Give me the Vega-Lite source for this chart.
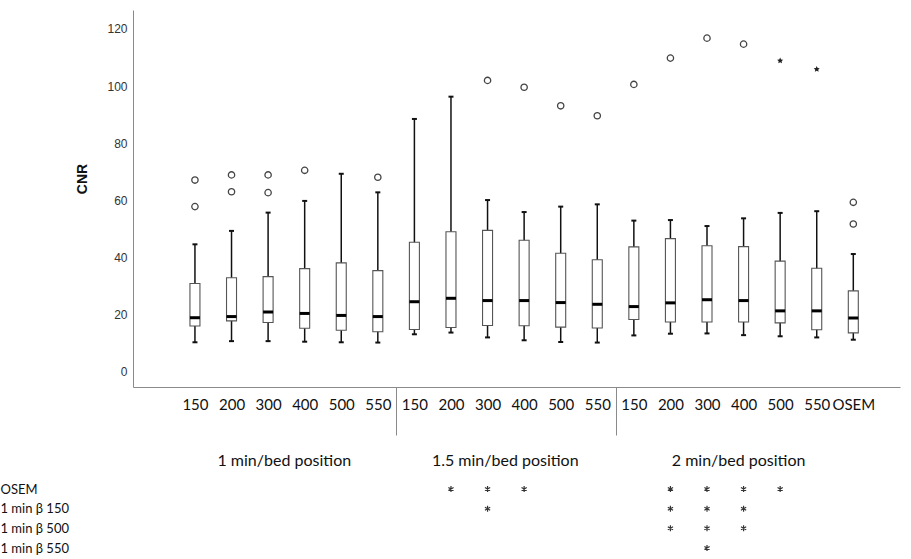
{
  "$schema": "https://vega.github.io/schema/vega-lite/v6.json",
  "width": 767,
  "height": 377,
  "autosize": {"type": "none"},
  "padding": {"left": 133, "top": 10, "right": 11, "bottom": 172},
  "background": "white",
  "config": {"view": {"stroke": null}},
  "datasets": {
    "boxes": [
      {"id": 1, "time": "1 min/bed position", "beta": "150", "lo": 10.3, "q1": 16.0, "med": 18.9, "q3": 30.9, "hi": 44.6},
      {"id": 2, "time": "1 min/bed position", "beta": "200", "lo": 10.7, "q1": 17.8, "med": 19.3, "q3": 32.9, "hi": 49.3},
      {"id": 3, "time": "1 min/bed position", "beta": "300", "lo": 10.7, "q1": 17.2, "med": 20.9, "q3": 33.3, "hi": 55.7},
      {"id": 4, "time": "1 min/bed position", "beta": "400", "lo": 10.5, "q1": 15.2, "med": 20.4, "q3": 36.1, "hi": 59.8},
      {"id": 5, "time": "1 min/bed position", "beta": "500", "lo": 10.3, "q1": 14.5, "med": 19.7, "q3": 38.1, "hi": 69.3},
      {"id": 6, "time": "1 min/bed position", "beta": "550", "lo": 10.2, "q1": 14.0, "med": 19.3, "q3": 35.4, "hi": 62.8},
      {"id": 7, "time": "1.5 min/bed position", "beta": "150", "lo": 13.1, "q1": 14.8, "med": 24.5, "q3": 45.3, "hi": 88.5},
      {"id": 8, "time": "1.5 min/bed position", "beta": "200", "lo": 13.7, "q1": 15.5, "med": 25.7, "q3": 49.0, "hi": 96.3},
      {"id": 9, "time": "1.5 min/bed position", "beta": "300", "lo": 12.0, "q1": 16.2, "med": 24.9, "q3": 49.5, "hi": 60.1},
      {"id": 10, "time": "1.5 min/bed position", "beta": "400", "lo": 11.0, "q1": 16.1, "med": 24.9, "q3": 46.0, "hi": 55.9},
      {"id": 11, "time": "1.5 min/bed position", "beta": "500", "lo": 10.4, "q1": 15.6, "med": 24.2, "q3": 41.5, "hi": 57.8},
      {"id": 12, "time": "1.5 min/bed position", "beta": "550", "lo": 10.2, "q1": 15.3, "med": 23.6, "q3": 39.2, "hi": 58.6},
      {"id": 13, "time": "2 min/bed position", "beta": "150", "lo": 12.7, "q1": 18.3, "med": 22.8, "q3": 43.7, "hi": 52.9},
      {"id": 14, "time": "2 min/bed position", "beta": "200", "lo": 13.3, "q1": 17.4, "med": 24.1, "q3": 46.6, "hi": 53.1},
      {"id": 15, "time": "2 min/bed position", "beta": "300", "lo": 13.4, "q1": 17.4, "med": 25.2, "q3": 44.1, "hi": 51.0},
      {"id": 16, "time": "2 min/bed position", "beta": "400", "lo": 12.8, "q1": 17.4, "med": 24.9, "q3": 43.8, "hi": 53.7},
      {"id": 17, "time": "2 min/bed position", "beta": "500", "lo": 12.4, "q1": 17.1, "med": 21.3, "q3": 38.7, "hi": 55.6},
      {"id": 18, "time": "2 min/bed position", "beta": "550", "lo": 12.0, "q1": 14.7, "med": 21.3, "q3": 36.2, "hi": 56.2},
      {"id": 19, "time": "2 min/bed position", "beta": "OSEM", "lo": 11.2, "q1": 13.6, "med": 18.8, "q3": 28.3, "hi": 41.2}
    ],
    "outliers": [
      {"id": 1, "value": 67.1, "kind": "outlier"},
      {"id": 1, "value": 57.8, "kind": "outlier"},
      {"id": 2, "value": 68.9, "kind": "outlier"},
      {"id": 2, "value": 63.0, "kind": "outlier"},
      {"id": 3, "value": 68.9, "kind": "outlier"},
      {"id": 3, "value": 62.7, "kind": "outlier"},
      {"id": 4, "value": 70.5, "kind": "outlier"},
      {"id": 6, "value": 68.1, "kind": "outlier"},
      {"id": 9, "value": 102.0, "kind": "outlier"},
      {"id": 10, "value": 99.6, "kind": "outlier"},
      {"id": 11, "value": 93.1, "kind": "outlier"},
      {"id": 12, "value": 89.6, "kind": "outlier"},
      {"id": 13, "value": 100.6, "kind": "outlier"},
      {"id": 14, "value": 109.8, "kind": "outlier"},
      {"id": 15, "value": 116.8, "kind": "outlier"},
      {"id": 16, "value": 114.7, "kind": "outlier"},
      {"id": 17, "value": 108.9, "kind": "extreme"},
      {"id": 18, "value": 105.9, "kind": "extreme"},
      {"id": 19, "value": 59.3, "kind": "outlier"},
      {"id": 19, "value": 51.7, "kind": "outlier"}
    ],
    "sig": [
      {"row": "OSEM", "id": 8},
      {"row": "OSEM", "id": 9},
      {"row": "OSEM", "id": 10},
      {"row": "OSEM", "id": 14},
      {"row": "OSEM", "id": 15},
      {"row": "OSEM", "id": 16},
      {"row": "OSEM", "id": 17},
      {"row": "1 min β 150", "id": 9},
      {"row": "1 min β 150", "id": 14},
      {"row": "1 min β 150", "id": 15},
      {"row": "1 min β 150", "id": 16},
      {"row": "1 min β 500", "id": 14},
      {"row": "1 min β 500", "id": 15},
      {"row": "1 min β 500", "id": 16},
      {"row": "1 min β 550", "id": 15}
    ]
  },
  "encoding": {
    "x": {
      "field": "id", "type": "quantitative",
      "scale": {"domain": [-0.557, 20.14], "nice": false, "zero": false},
      "axis": {
        "title": null, "grid": false,
        "values": [1, 2, 3, 4, 5, 6, 7, 8, 9, 10, 11, 12, 13, 14, 15, 16, 17, 18, 19, 3.43, 9.47, 15.85, 6.5, 12.5],
        "labelExpr": "datum.value == 6.5 || datum.value == 12.5 ? '' : datum.value == 3.43 ? '1 min/bed position' : datum.value == 9.47 ? '1.5 min/bed position' : datum.value == 15.85 ? '2 min/bed position' : datum.value == 19 ? 'OSEM' : ['150','200','300','400','500','550'][(datum.value - 1) % 6]",
        "domainColor": "#8a8a8a", "domainWidth": 1,
        "tickSize": 48, "tickColor": "#8a8a8a", "tickWidth": 1,
        "tickOpacity": {"condition": {"test": "datum.value == 6.5 || datum.value == 12.5", "value": 1}, "value": 0},
        "labelPadding": {"condition": {"test": "datum.value == 3.43 || datum.value == 9.47 || datum.value == 15.85", "value": 25}, "value": -30.7},
        "labelFontSize": {"condition": {"test": "datum.value == 3.43 || datum.value == 9.47 || datum.value == 15.85", "value": 16}, "value": 15},
        "labelFont": "Lato", "labelColor": "#111", "labelBaseline": "middle", "labelAngle": 0,
        "labelOverlap": false, "labelBound": false, "labelFlush": false
      }
    }
  },
  "layer": [
    {
      "layer": [
        {
          "data": {"name": "boxes"},
          "mark": {"type": "rule", "color": "#111", "strokeWidth": 1.5},
          "encoding": {
            "y": {
              "field": "lo", "type": "quantitative",
              "scale": {"domain": [-5.36, 126.65], "nice": false, "zero": false},
              "axis": {
                "title": "CNR", "grid": false, "values": [0, 20, 40, 60, 80, 100, 120],
                "ticks": false, "labelPadding": 6, "domainColor": "#8a8a8a",
                "labelFont": "Liberation Sans", "labelFontSize": 12, "labelColor": "#333",
                "titleFont": "Liberation Sans", "titleFontSize": 14, "titleFontWeight": "bold", "titleColor": "#111",
                "titleAngle": -90, "titleX": -51, "titleY": 168.5, "titleAlign": "center", "titleBaseline": "middle"
              }
            },
            "y2": {"field": "hi"}
          }
        },
        {
          "data": {"name": "boxes"},
          "mark": {"type": "bar", "width": 10, "fill": "white", "stroke": "#555", "strokeWidth": 1.1},
          "encoding": {
            "y": {"field": "q1", "type": "quantitative"},
            "y2": {"field": "q3"}
          }
        },
        {
          "data": {"name": "boxes"},
          "mark": {"type": "tick", "orient": "horizontal", "size": 10, "thickness": 3, "color": "#000", "opacity": 1},
          "encoding": {
            "y": {"field": "med", "type": "quantitative"}
          }
        },
        {
          "data": {"name": "boxes"},
          "mark": {"type": "tick", "orient": "horizontal", "size": 5, "thickness": 2, "color": "#111", "opacity": 1},
          "encoding": {
            "y": {"field": "lo", "type": "quantitative"}
          }
        },
        {
          "data": {"name": "boxes"},
          "mark": {"type": "tick", "orient": "horizontal", "size": 5, "thickness": 2, "color": "#111", "opacity": 1},
          "encoding": {
            "y": {"field": "hi", "type": "quantitative"}
          }
        },
        {
          "data": {"name": "outliers"},
          "transform": [{"filter": "datum.kind == 'outlier'"}],
          "mark": {"type": "point", "shape": "circle", "filled": false, "size": 40, "stroke": "#444", "strokeWidth": 1.3, "opacity": 1},
          "encoding": {
            "y": {"field": "value", "type": "quantitative"}
          }
        },
        {
          "data": {"name": "outliers"},
          "transform": [{"filter": "datum.kind == 'extreme'"}],
          "mark": {"type": "point", "shape": "M0,-1L0.29,-0.4L0.95,-0.31L0.47,0.15L0.59,0.81L0,0.5L-0.59,0.81L-0.47,0.15L-0.95,-0.31L-0.29,-0.4Z", "filled": true, "size": 40, "color": "#222", "opacity": 1},
          "encoding": {
            "y": {"field": "value", "type": "quantitative"}
          }
        }
      ]
    },
    {
      "data": {"name": "sig"},
      "mark": {"type": "point", "shape": "M0,-1L0,1M-0.87,-0.5L0.87,0.5M-0.87,0.5L0.87,-0.5", "filled": false, "size": 36, "stroke": "#333", "strokeWidth": 1.2, "opacity": 1},
      "encoding": {
        "y": {
          "field": "row", "type": "nominal",
          "scale": {"type": "point", "domain": ["OSEM", "1 min β 150", "1 min β 500", "1 min β 550"], "range": [479, 538], "padding": 0},
          "axis": {
            "orient": "left", "title": null, "domain": false, "ticks": false, "tickSize": 0, "grid": false,
            "labelAlign": "left", "labelPadding": 133, "labelBaseline": "middle",
            "labelFont": "Lato", "labelFontSize": 13, "labelColor": "#111"
          }
        }
      }
    }
  ],
  "resolve": {"scale": {"y": "independent"}, "axis": {"y": "independent"}}
}
